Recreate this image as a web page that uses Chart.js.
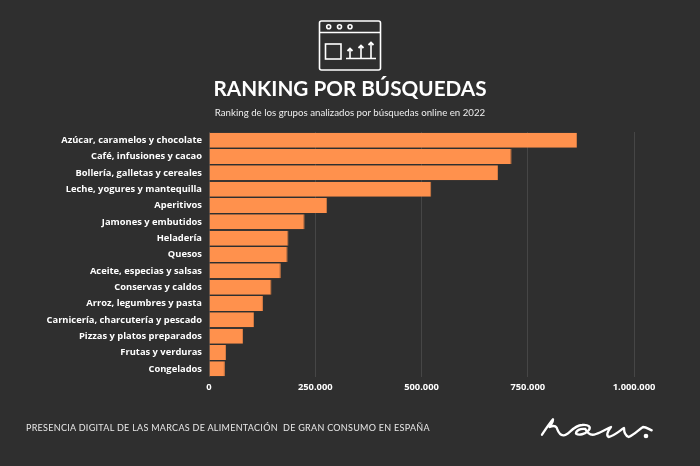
<!DOCTYPE html>
<html>
<head>
<meta charset="utf-8">
<style>
  html, body { margin: 0; padding: 0; background: #2f2f2f; }
  #wrap { position: relative; width: 700px; height: 466px; overflow: hidden; }
  #myChart { position: absolute; left: 0; top: 0; }
  #title { position: absolute; left: 0; width: 700px; top: 74px; text-align: center; color: #fff; font: 700 20.7px/28px Lato, sans-serif; }
  #subtitle { position: absolute; left: 0; width: 700px; top: 106px; text-align: center; color: #eee; font: 400 9.7px/12px Lato, sans-serif; }
  #footer { position: absolute; left: 26px; top: 422px; color: #e8e8e8; font: 400 9px Lato, sans-serif; letter-spacing: 0.29px; white-space: pre; }
  svg { position: absolute; }
</style>
<script src="https://cdn.jsdelivr.net/npm/chart.js@4"></script>
</head>
<body>
<div id="wrap">
  <canvas id="myChart" width="700" height="466"></canvas>
  <svg style="left:300px;top:10px" width="100" height="70" viewBox="300 10 100 70" fill="none" stroke="#fff" stroke-width="1.6">
    <rect x="319.5" y="21" width="61" height="49" rx="2"/>
    <path d="M319.5 32.5H380.5"/>
    <circle cx="328.7" cy="26.7" r="2"/><circle cx="339.5" cy="26.7" r="2"/><circle cx="350" cy="26.7" r="2"/>
    <rect x="325.5" y="44" width="15.5" height="15"/>
    <path d="M346 58.5H376M350 58V50M361 58V47M371 58V44"/>
    <path d="M347.5 51L350 48.5L352.5 51M358.5 48L361 45.5L363.5 48M368.5 45L371 42.5L373.5 45" stroke-width="1.8"/>
  </svg>
  <svg style="left:520px;top:405px" width="160" height="45" viewBox="0 0 480 135" fill="none" stroke="#fff" stroke-width="7" stroke-linecap="round" stroke-linejoin="round">
    <path d="M66 89C76 74 88 56 99 43C100 52 92 60 89 66C98 62 106 62 110 68C114 78 116 90 130 91C146 92 158 62 186 60C206 58 214 66 206 76C196 88 176 92 168 86C168 76 180 70 196 72C204 88 216 92 228 87C244 82 262 70 273 66C262 80 258 92 266 96C284 92 300 76 312 69C312 80 316 92 326 96C342 90 356 74 369 66C378 66 386 72 395 76"/>
    <circle cx="378" cy="93" r="3.5"/>
  </svg>
  <div id="title">RANKING POR BÚSQUEDAS</div>
  <div id="subtitle">Ranking de los grupos analizados por búsquedas online en 2022</div>
  <div id="footer">PRESENCIA DIGITAL DE LAS MARCAS DE ALIMENTACIÓN  DE GRAN CONSUMO EN ESPAÑA</div>
</div>
<script>
const categories = ['Azúcar, caramelos y chocolate', 'Café, infusiones y cacao', 'Bollería, galletas y cereales',
  'Leche, yogures y mantequilla', 'Aperitivos', 'Jamones y embutidos', 'Heladería', 'Quesos',
  'Aceite, especias y salsas', 'Conservas y caldos', 'Arroz, legumbres y pasta',
  'Carnicería, charcutería y pescado', 'Pizzas y platos preparados', 'Frutas y verduras', 'Congelados'];
const busquedas = [866000, 712000, 680000, 523000, 278000, 225000, 187000, 185000, 169000, 147000, 127000, 106000, 80000, 40000, 37500];
const xTicks = [0, 250000, 500000, 750000, 1000000];

const ctx = document.getElementById('myChart').getContext('2d');
ctx.textRendering = 'geometricPrecision';

new Chart(ctx, {
  type: 'bar',
  data: {
    labels: categories,
    datasets: [{
      data: busquedas,
      backgroundColor: '#ff914d',
      borderColor: '#d67c44',
      borderWidth: { right: 1 },
      borderSkipped: false,
      categoryPercentage: 1,
      barPercentage: 0.92
    }]
  },
  options: {
    indexAxis: 'y',
    responsive: false,
    animation: false,
    layout: { padding: { top: 132, right: 66 } },
    plugins: {
      legend: { display: false },
      tooltip: { enabled: false }
    },
    scales: {
      x: {
        min: 0,
        max: 1000000,
        afterBuildTicks: scale => { scale.ticks = xTicks.map(v => ({ value: v })); },
        afterFit: scale => { scale.height = 89; },
        grid: { color: '#464646', lineWidth: 1, drawTicks: false },
        border: { display: false },
        ticks: {
          color: '#fff',
          padding: 5,
          maxRotation: 0,
          font: { family: 'Open Sans', size: 9.35, weight: '700' },
          callback: v => v.toLocaleString('de-DE')
        }
      },
      y: {
        afterFit: scale => { scale.width = 209; },
        grid: { display: false, drawTicks: false },
        border: { display: false },
        ticks: {
          color: '#fff',
          padding: 7,
          autoSkip: false,
          font: { family: 'Open Sans', size: 9.35, weight: '700' }
        }
      }
    }
  }
});
</script>
</body>
</html>
